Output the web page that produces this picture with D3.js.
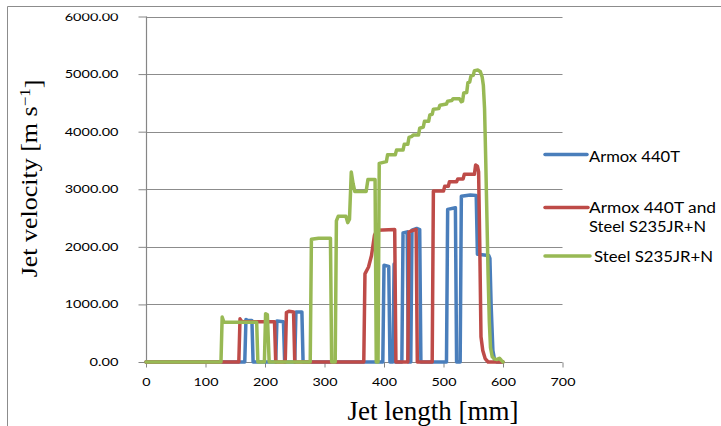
<!DOCTYPE html>
<html><head><meta charset="utf-8">
<script src="https://cdn.jsdelivr.net/npm/d3@7"></script>
<style>html,body{margin:0;padding:0;background:#fff;}svg{display:block;}</style>
</head><body>
<script>
// ---- data ----
const xTicks = [0,100,200,300,400,500,600,700];
const yTicks = [0,1000,2000,3000,4000,5000,6000];
const seriesNames = ["Armox 440T", "Armox 440T and|Steel S235JR+N", "Steel S235JR+N"];
const seriesColors = ["#4a7ebb", "#be4b48", "#98b954"];

const armoxX = [0,166,168,171,178,180,218,220,231,233,250,252,262,264,398,400,408,410,415,417,419,430,432,439,441,445,447,455,460,462,505,507,520,522,528,530,545,555,557,576,578,580,583,586,590,600];
const armoxY = [0,0,740,720,720,0,0,710,700,0,0,870,870,0,0,1680,1660,0,0,1700,0,0,2240,2260,0,0,2290,2320,2300,0,0,2650,2680,0,0,2880,2900,2890,1870,1850,1800,1000,200,30,0,0];

const mixX = [0,156,158,161,216,218,234,236,240,248,250,366,368,374,379,384,388,418,420,440,442,450,454,456,481,483,500,502,508,510,522,524,533,535,552,554,557,559,561,563,566,570,575,600];
const mixY = [0,0,750,700,700,0,0,860,880,870,0,0,1530,1650,1850,2200,2290,2300,0,0,2260,2290,2300,0,0,2970,2970,3050,3050,3130,3130,3180,3180,3260,3260,3420,3400,3300,2000,440,200,60,0,0];

const steelX = [0,126,128,131,186,188,199,201,204,207,276,278,290,310,312,318,320,323,336,339,342,345,348,351,370,373,385,387,390,392,404,406,419,421,432,434,440,442,447,449,458,460,466,468,475,477,481,483,492,494,505,507,514,516,527,530,532,534,539,541,544,546,550,552,558,562,565,567,569,571,573,575,577,579,582,586,590,594,597,600];
const steelY = [0,0,780,690,690,0,0,840,820,0,0,2130,2150,2150,0,0,2450,2530,2530,2420,2480,3300,3100,2960,2960,3170,3170,0,0,3450,3480,3600,3600,3680,3680,3780,3780,3900,3920,3940,3940,4060,4080,4180,4180,4290,4300,4390,4400,4460,4480,4530,4540,4570,4570,4520,4530,4670,4680,4850,4860,4960,4980,5060,5070,5040,4950,4800,4400,3500,2500,1500,700,250,90,50,45,65,30,0];

const seriesX = [armoxX, mixX, steelX];
const seriesY = [armoxY, mixY, steelY];

// ---- layout ----
const W = 721, H = 426;
const SANS = "Lato, 'Liberation Sans', sans-serif";
const SERIF = "'Liberation Serif', 'Times New Roman', serif";
const svg = d3.select("body").append("svg").attr("width", W).attr("height", H);
svg.append("rect").attr("width", W).attr("height", H).attr("fill", "#fff");

// outer frame (left and top)
svg.append("path").attr("d", "M7.5,426 L7.5,6.5 L721,6.5").attr("fill","none").attr("stroke","#8c8c8c").attr("stroke-width",1);

const x = d3.scaleLinear().domain([0,700]).range([146,562.5]);
const y = d3.scaleLinear().domain([0,6000]).range([362,16.5]);

// gridlines
svg.append("g").selectAll("line").data(yTicks.filter(d=>d>0)).join("line")
  .attr("x1", x(0)).attr("x2", x(700))
  .attr("y1", d=>Math.round(y(d))+0.5).attr("y2", d=>Math.round(y(d))+0.5)
  .attr("stroke","#8c8c8c").attr("stroke-width",1);

// clip for y labels
svg.append("defs").append("clipPath").attr("id","ylc").append("rect")
  .attr("x",0).attr("y",13.5).attr("width",146).attr("height",400);

const fmtY = d3.format(".2f"), fmtX = d3.format("d");
const labelW = s => s.replace(/[^0-9]/g,"").length*8.3 + s.replace(/[0-9]/g,"").length*4;

const yAxis = svg.append("g").attr("transform","translate(146.5,0)")
  .call(d3.axisLeft(y).tickValues(yTicks).tickFormat(fmtY).tickSize(8).tickPadding(20));
const xAxis = svg.append("g").attr("transform","translate(0,362.5)")
  .call(d3.axisBottom(x).tickValues(xTicks).tickFormat(fmtX).tickSize(5).tickPadding(10));

[yAxis, xAxis].forEach(g=>{
  g.select(".domain").attr("stroke","#868686").attr("stroke-width",1.2);
  g.selectAll(".tick line").attr("stroke","#868686").attr("stroke-width",1);
  g.selectAll("text").attr("font-family",SANS).attr("font-size",12).attr("fill","#000")
    .attr("textLength", function(){ return labelW(this.textContent); })
    .attr("lengthAdjust","spacingAndGlyphs");
});
yAxis.select(".domain").attr("d", `M0,${y(6000)}V${y(0)}`);
xAxis.select(".domain").attr("d", `M${x(0)},0H${x(700)}`);

// move y labels into a clipped group (top label is cut in the reference)
const ylabels = svg.append("g").attr("clip-path","url(#ylc)");
yAxis.selectAll(".tick").each(function(d){
  const t = d3.select(this).select("text");
  const s = t.text();
  ylabels.append("text").attr("x", 146.5-28).attr("y", y(d)).attr("dy","0.34em")
    .attr("text-anchor","end").attr("font-family",SANS)
    .attr("font-size",12).attr("fill","#000")
    .attr("textLength", labelW(s)).attr("lengthAdjust","spacingAndGlyphs").text(s);
  t.remove();
});

// lines
const line = d3.line().x(d=>x(d[0])).y(d=>y(d[1])).curve(d3.curveLinear);
seriesX.forEach((xs,i)=>{
  const pts = xs.map((v,j)=>[v, seriesY[i][j]]);
  svg.append("path").datum(pts).attr("d", line)
    .attr("fill","none").attr("stroke", seriesColors[i]).attr("stroke-width",3.5)
    .attr("stroke-linejoin","round").attr("stroke-linecap","round");
});

// axis titles
const yt = svg.append("text").attr("transform","translate(37,178.5) rotate(-90) scale(1.13,1)")
  .attr("text-anchor","middle").attr("font-family",SERIF)
  .attr("font-size",23).attr("fill","#000");
yt.append("tspan").text("Jet velocity [m s");
yt.append("tspan").attr("dy","-0.45em").attr("font-size","15").text("\u22121");
yt.append("tspan").attr("dy","0.45em").text("]");

svg.append("text").attr("x",433).attr("y",420).attr("text-anchor","middle")
  .attr("font-family",SERIF).attr("font-size",27)
  .attr("fill","#000").text("Jet length [mm]");

// legend
const legY = [154.5, 207.5, 256];
const legX2 = [587, 588, 590];
const legText = [
  [{t:"Armox 440T", x:589, y:161.5, w:91}],
  [{t:"Armox 440T and", x:589, y:213, w:127},{t:"Steel S235JR+N", x:589, y:232, w:117}],
  [{t:"Steel S235JR+N", x:594, y:261.5, w:119}]
];
seriesNames.forEach((n,i)=>{
  svg.append("line").attr("x1",545).attr("x2",legX2[i]).attr("y1",legY[i]).attr("y2",legY[i])
    .attr("stroke",seriesColors[i]).attr("stroke-width",3.5).attr("stroke-linecap","round");
  legText[i].forEach(o=>{
    svg.append("text").attr("x",o.x).attr("y",o.y).attr("font-family",SANS)
      .attr("font-size",14.5).attr("fill","#000").attr("textLength",o.w).attr("lengthAdjust","spacingAndGlyphs").text(o.t);
  });
});
</script>
</body></html>
